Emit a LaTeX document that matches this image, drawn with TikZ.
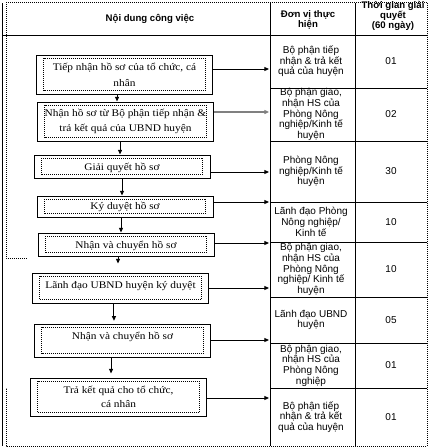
\documentclass[tikz,border=0pt]{standalone}
\usepackage{fontspec}
\setmainfont{Liberation Serif}[FakeStretch=1.12]
\newfontfamily\tablefont{Liberation Sans}
\usetikzlibrary{arrows.meta}
\tikzset{
  dotline/.style={line width=0.7pt, dash pattern=on 0.7pt off 0.8pt},
  stepbox/.style={draw, line width=0.75pt, minimum width=132pt, minimum height=#1,
    inner sep=0pt, font=\fontsize{7.6}{12}\selectfont,
    path picture={\draw[dotline] ([shift={(5.5pt,-2.3pt)}]path picture bounding box.north west)
      rectangle ([shift={(-5.5pt,2.3pt)}]path picture bounding box.south east);}},
  oneline/.style 2 args={text height=#1, text depth=#2},
  cell/.style={align=center, inner sep=0pt, font=\tablefont\fontsize{7.5}{8}\selectfont},
  headcell/.style={align=center, inner sep=0pt, font=\tablefont\bfseries\fontsize{7.2}{7.6}\selectfont},
  flow/.style={line width=0.75pt, -{Triangle[length=3.5pt,width=3pt]}},
  grayflow/.style={flow, draw=gray, line width=1.1pt}
}
\begin{document}
\begin{tikzpicture}[x={(0.75pt,0pt)},y={(0pt,-0.75pt)}]
\useasboundingbox[fill=white] (0,0) rectangle (429,447);
% frame and table lines
\draw[line width=0.75pt] (2,3) -- (2,446);
\draw[dotline] (6,2) -- (427,2) -- (427,446) -- (6,446) -- (6,388);
\draw[dotline] (6,2) -- (6,258) -- (27,258);
\draw[line width=0.7pt] (2,35) -- (427,35);
\draw[line width=0.7pt] (270,3) -- (270,446);
\draw[line width=0.7pt] (355,3) -- (355,446);
\foreach \y in {88,141,202,242,297,343,388}
  \draw[line width=0.7pt] (270,\y) -- (427,\y);
% header
\node[headcell] (h1) at (150,19) {Nội dung công việc};
\node[headcell] (h2) at (308,20) {Đơn vị thực\\hiện};
\node[headcell] (h3) at (393,16) {Thời gian giải\\quyết\\(60 ngày)};
% steps
\node[stepbox=29.25pt, align=center] (b1) at (124.5,74.5) {Tiếp nhận hồ sơ của tổ chức, cá\\nhân};
\node[stepbox=29.25pt, align=center, font=\fontsize{7.6}{11}\selectfont] (b2) at (125.5,121.5) {Nhận hồ sơ từ Bộ phận tiếp nhận \&\\trả kết quả của UBND huyện};
\node[stepbox=17.25pt, oneline={7.5pt}{1pt}] (b3) at (122,166.5) {Giải quyết hồ sơ};
\node[stepbox=15.75pt, oneline={6pt}{1.8pt}] (b4) at (125,206.5) {Ký duyệt hồ sơ};
\node[stepbox=17.25pt, oneline={7.5pt}{1pt}] (b5) at (126,244.5) {Nhận và chuyển hồ sơ};
\node[stepbox=22.5pt, oneline={5.5pt}{4.5pt}] (b6) at (120.5,288) {Lãnh đạo UBND huyện ký duyệt};
\node[stepbox=24.75pt, oneline={5.5pt}{7.5pt}] (b7) at (122.5,340.5) {Nhận và chuyển hồ sơ};
\node[stepbox=28.5pt, align=center, font=\fontsize{7.6}{10.5}\selectfont] (b8) at (118.5,397) {Trả kết quả cho tổ chức,\\cá nhân};
% units
\node[cell] (u1) at (311,61.5) {Bộ phận tiếp\\nhận \& trả kết\\quả của huyện};
\node[cell] (u2) at (311,114.5) {Bộ phận giao,\\nhận HS của\\Phòng Nông\\nghiệp/Kinh tế\\huyện};
\node[cell] (u3) at (311,171.5) {Phòng Nông\\nghiệp/Kinh tế\\huyện};
\node[cell] (u4) at (311,222) {Lãnh đạo Phòng\\Nông nghiệp/\\Kinh tế};
\node[cell] (u5) at (311,269.5) {Bộ phận giao,\\nhận HS của\\Phòng Nông\\nghiệp/ Kinh tế\\huyện};
\node[cell] (u6) at (311,320) {Lãnh đạo UBND\\huyện};
\node[cell] (u7) at (311,365.5) {Bộ phận giao,\\nhận HS của\\Phòng Nông\\nghiệp};
\node[cell] (u8) at (311,417) {Bộ phận tiếp\\nhận \& trả kết\\quả của huyện};
% days
\node[cell] (d1) at (391,61.5) {01};
\node[cell] (d2) at (391,114.5) {02};
\node[cell] (d3) at (391,171.5) {30};
\node[cell] (d4) at (391,222) {10};
\node[cell] (d5) at (391,269.5) {10};
\node[cell] (d6) at (391,320) {05};
\node[cell] (d7) at (391,365.5) {01};
\node[cell] (d8) at (391,417) {01};
% arrow ends on the column line
\coordinate (t1) at (269,69);
\coordinate (t2) at (269,112);
\coordinate (t3) at (269,172);
\coordinate (t4) at (269,202);
\coordinate (t5) at (269,243);
\coordinate (t6) at (269,288);
\coordinate (t7) at (269,340);
\coordinate (t8) at (269,398);
\draw[flow] (b1.east |- t1) -- (t1);
\draw[grayflow] (b2.east |- t2) -- (t2);
\draw[flow] (b3.east |- t3) -- (t3);
\draw[flow] (b4.east |- t4) -- (t4);
\draw[flow] (b5.east |- t5) -- (t5);
\draw[flow] (b6.east |- t6) -- (t6);
\draw[flow] (b7.east |- t7) -- (t7);
\draw[flow] (b8.east |- t8) -- (t8);
% steps in order
\draw[flow] ([xshift=-5.6pt]b1.south) -- ([xshift=-5.6pt]b1.south |- b2.north);
\draw[flow] ([xshift=-4.1pt]b2.south) -- ([xshift=-4.1pt]b2.south |- b3.north);
\draw[flow] (b3.south) -- (b3.south |- b4.north);
\draw[flow] ([xshift=-3pt]b4.south) -- ([xshift=-3pt]b4.south |- b5.north);
\draw[flow, shorten >=6.75pt] ([xshift=-6pt]b5.south) -- ([xshift=-6pt]b5.south |- b6.north);
\draw[flow, shorten >=2pt] ([xshift=-4.9pt]b6.south) -- ([xshift=-4.9pt]b6.south |- b7.north);
\draw[flow, shorten >=3pt] ([xshift=-8.6pt]b7.south) -- ([xshift=-8.6pt]b7.south |- b8.north);
\end{tikzpicture}
\end{document}
